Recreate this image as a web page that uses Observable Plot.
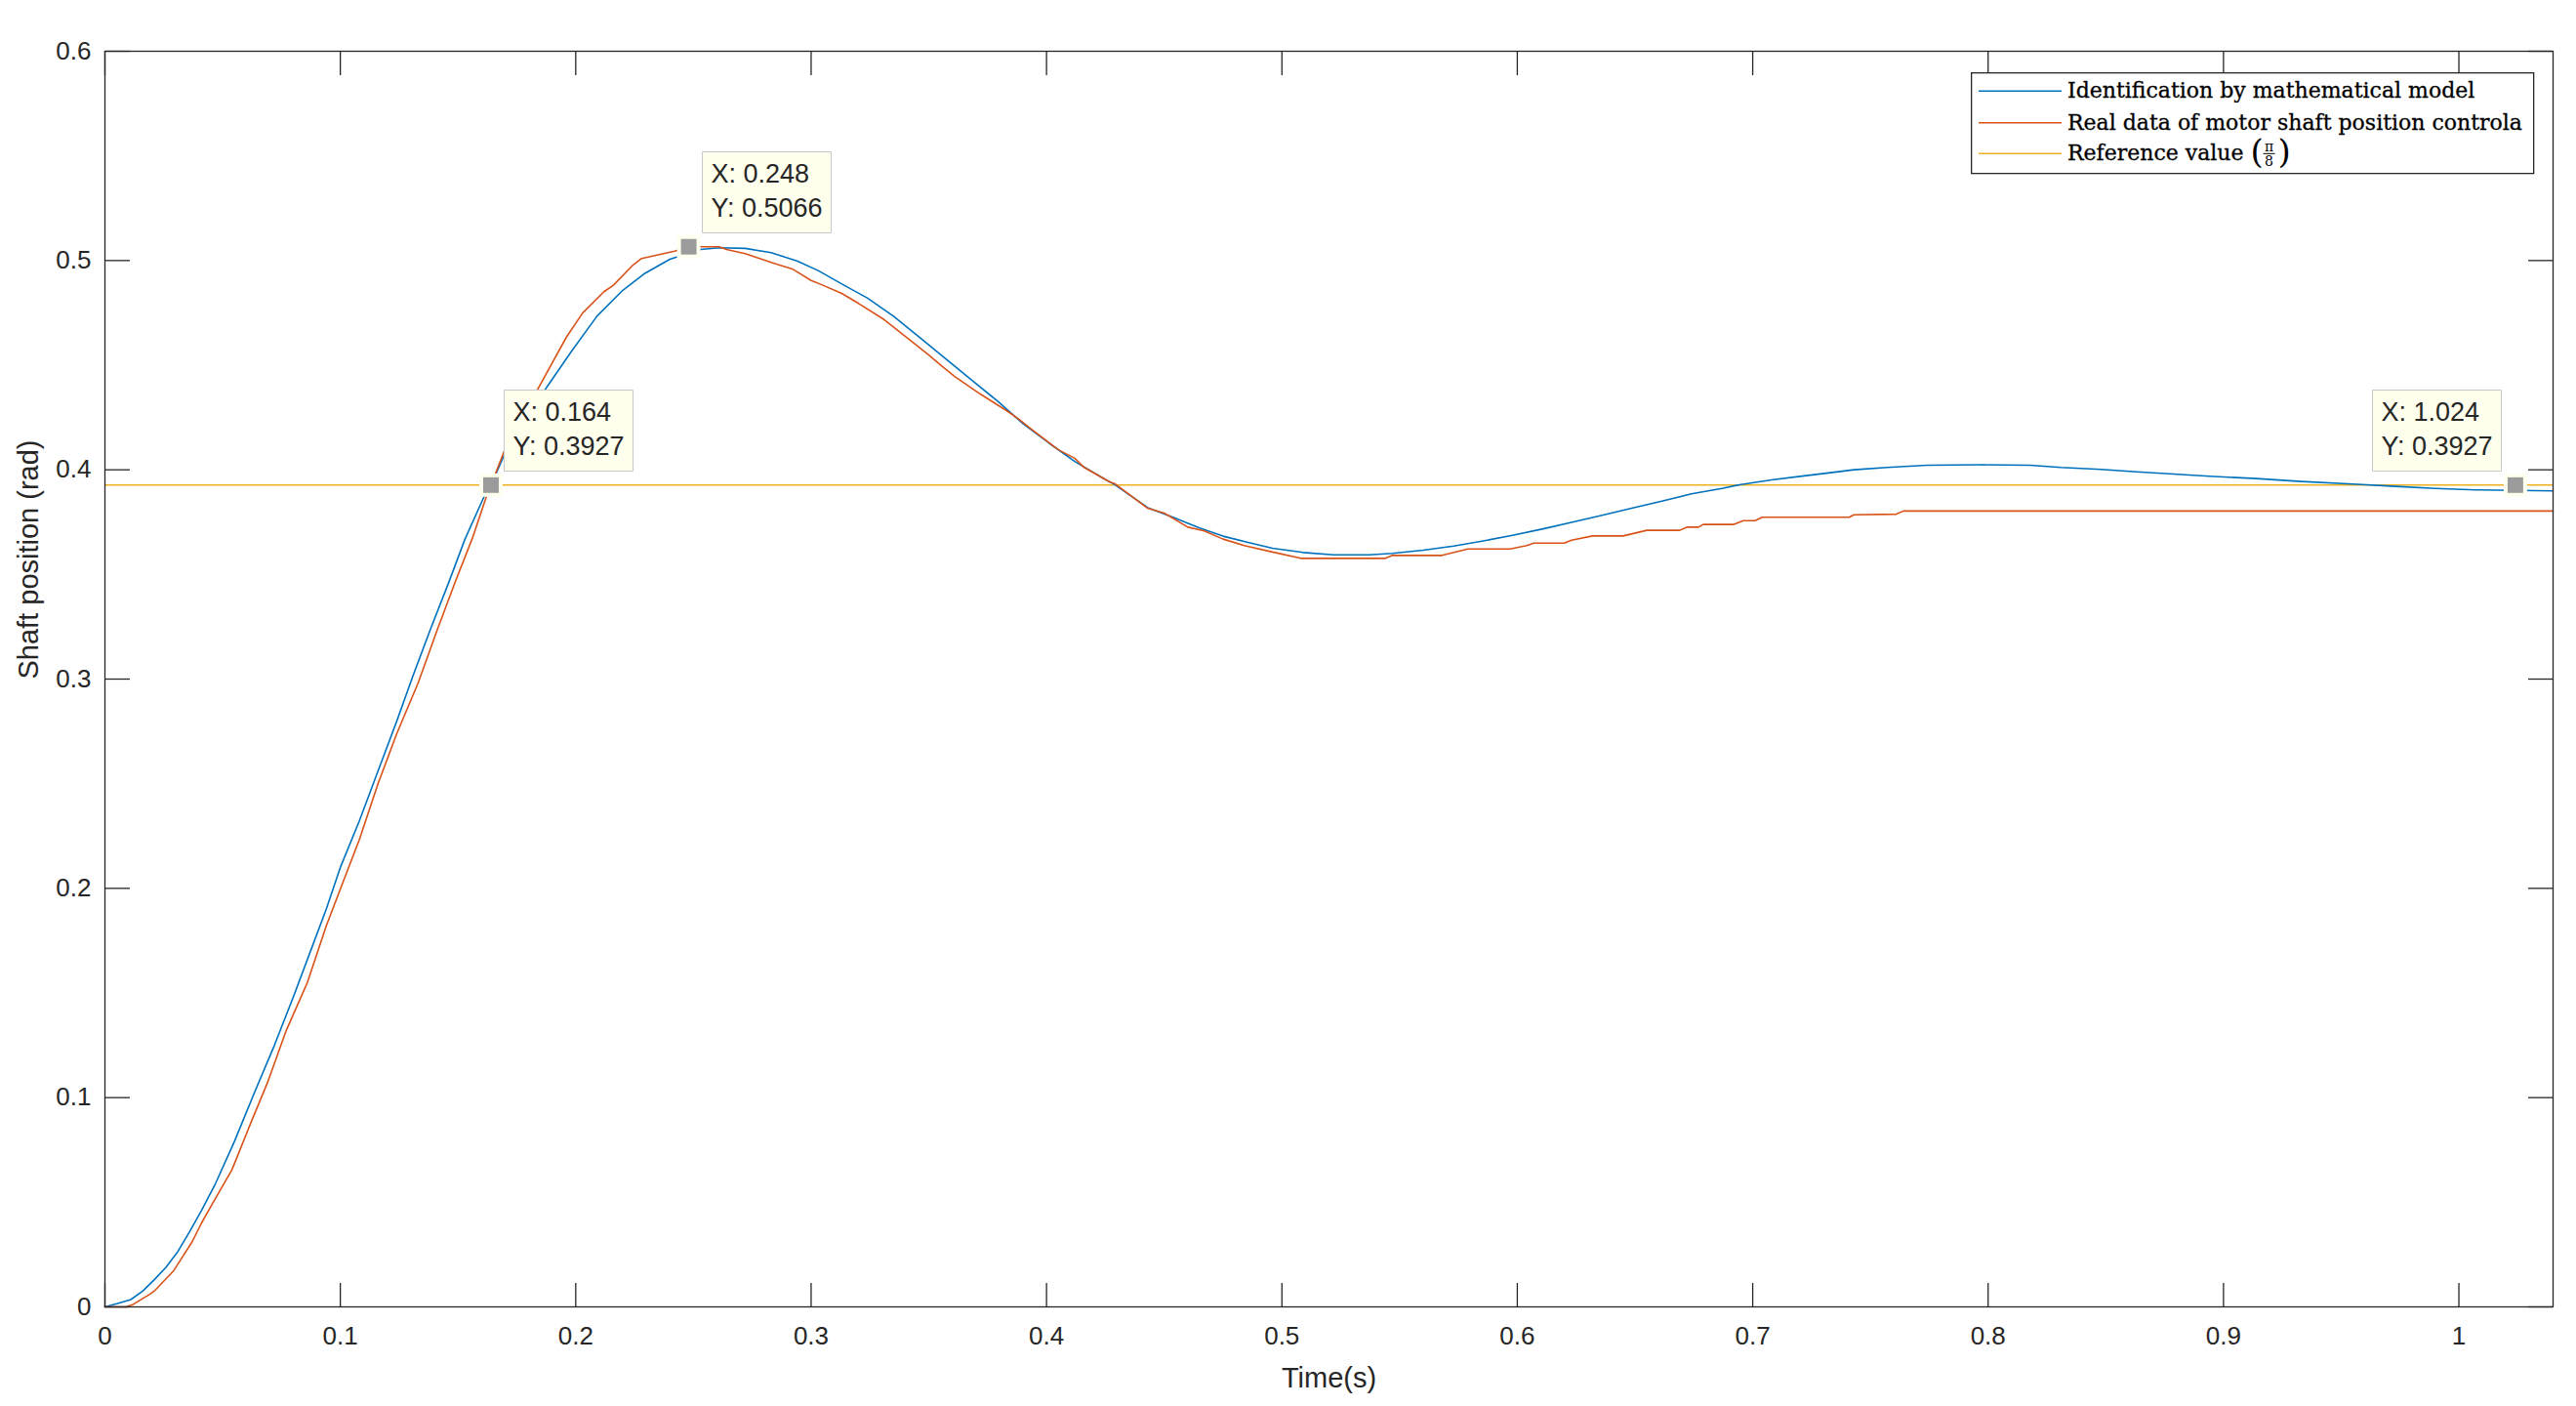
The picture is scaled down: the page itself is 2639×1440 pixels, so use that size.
<!DOCTYPE html>
<html>
<head>
<meta charset="utf-8">
<script src="https://cdn.jsdelivr.net/npm/d3@7"></script>
<script src="https://cdn.jsdelivr.net/npm/@observablehq/plot@0.6"></script>
<style>
  html, body { margin: 0; padding: 0; background: #fff; }
  #wrap { position: relative; width: 2639px; height: 1440px; }
  #legend { position: absolute; left: 2019px; top: 74px; }
</style>
</head>
<body>
<div id="wrap"><div id="chart"></div><svg id="legend" width="578" height="105"></svg></div>
<script>
// ---- Data ----
const modelT = [0, 0.005, 0.011, 0.016, 0.021, 0.026, 0.031, 0.036, 0.041, 0.047, 0.055, 0.063, 0.072, 0.080, 0.088, 0.094, 0.100, 0.108, 0.116, 0.124, 0.131, 0.138, 0.146, 0.153, 0.161, 0.164, 0.170, 0.188, 0.198, 0.209, 0.220, 0.229, 0.240, 0.253, 0.261, 0.272, 0.283, 0.294, 0.303, 0.314, 0.324, 0.335, 0.346, 0.357, 0.368, 0.379, 0.390, 0.401, 0.412, 0.424, 0.429, 0.443, 0.454, 0.465, 0.475, 0.486, 0.496, 0.509, 0.522, 0.537, 0.547, 0.560, 0.573, 0.585, 0.598, 0.611, 0.623, 0.636, 0.649, 0.661, 0.674, 0.687, 0.695, 0.708, 0.721, 0.733, 0.743, 0.757, 0.774, 0.796, 0.818, 0.831, 0.848, 0.863, 0.877, 0.894, 0.914, 0.933, 0.955, 0.973, 0.990, 1.007, 1.040];
const modelV = [0, 0.0015, 0.0035, 0.0075, 0.0130, 0.0190, 0.0265, 0.0360, 0.0460, 0.0590, 0.0790, 0.1010, 0.1250, 0.1480, 0.1720, 0.1900, 0.2100, 0.2320, 0.2560, 0.2800, 0.3020, 0.3230, 0.3460, 0.3670, 0.3870, 0.3927, 0.4080, 0.4400, 0.4563, 0.4734, 0.4858, 0.4936, 0.5006, 0.5053, 0.5061, 0.5058, 0.5038, 0.4998, 0.4952, 0.4882, 0.4820, 0.4734, 0.4633, 0.4532, 0.4431, 0.4330, 0.4221, 0.4128, 0.4040, 0.3960, 0.3929, 0.3819, 0.3772, 0.3722, 0.3683, 0.3652, 0.3625, 0.3605, 0.3594, 0.3594, 0.3601, 0.3616, 0.3636, 0.3659, 0.3687, 0.3718, 0.3749, 0.3783, 0.3818, 0.3849, 0.3885, 0.3911, 0.3930, 0.3952, 0.3970, 0.3986, 0.4000, 0.4011, 0.4022, 0.4024, 0.4022, 0.4011, 0.4002, 0.3990, 0.3981, 0.3969, 0.3958, 0.3944, 0.3932, 0.3921, 0.3911, 0.3904, 0.3899];

const realT = [0, 0.009, 0.012, 0.019, 0.021, 0.029, 0.033, 0.037, 0.041, 0.045, 0.054, 0.062, 0.069, 0.077, 0.086, 0.094, 0.102, 0.108, 0.116, 0.124, 0.133, 0.141, 0.149, 0.156, 0.162, 0.164, 0.170, 0.185, 0.196, 0.203, 0.212, 0.216, 0.224, 0.228, 0.242, 0.248, 0.261, 0.264, 0.272, 0.283, 0.292, 0.300, 0.305, 0.313, 0.320, 0.331, 0.344, 0.350, 0.355, 0.361, 0.372, 0.383, 0.388, 0.394, 0.405, 0.412, 0.416, 0.427, 0.429, 0.443, 0.450, 0.460, 0.467, 0.475, 0.484, 0.496, 0.508, 0.544, 0.547, 0.568, 0.579, 0.597, 0.604, 0.607, 0.620, 0.623, 0.632, 0.645, 0.655, 0.669, 0.672, 0.677, 0.679, 0.692, 0.696, 0.701, 0.704, 0.741, 0.743, 0.761, 0.764, 1.040];
const realV = [0, 0, 0.0012, 0.0060, 0.0076, 0.0170, 0.0240, 0.0310, 0.0400, 0.0480, 0.0656, 0.0880, 0.1070, 0.1320, 0.1550, 0.1820, 0.2055, 0.2230, 0.2500, 0.2740, 0.2980, 0.3230, 0.3470, 0.3670, 0.3870, 0.3927, 0.4100, 0.4408, 0.4633, 0.4750, 0.4851, 0.4882, 0.4975, 0.5010, 0.5045, 0.5066, 0.5066, 0.5053, 0.5033, 0.4991, 0.4960, 0.4905, 0.4882, 0.4843, 0.4796, 0.4718, 0.4602, 0.4548, 0.4501, 0.4446, 0.4361, 0.4283, 0.4244, 0.4190, 0.4096, 0.4055, 0.4011, 0.3941, 0.3934, 0.3816, 0.3793, 0.3726, 0.3708, 0.3669, 0.3638, 0.3607, 0.3577, 0.3577, 0.3591, 0.3591, 0.3622, 0.3622, 0.3638, 0.3650, 0.3650, 0.3664, 0.3684, 0.3684, 0.3711, 0.3711, 0.3726, 0.3726, 0.3739, 0.3739, 0.3757, 0.3757, 0.3773, 0.3773, 0.3785, 0.3788, 0.3803, 0.3803];

const referenceValue = 0.3927;

const tipX = [0.164, 0.248, 1.024];
const tipY = [0.3927, 0.5066, 0.3927];
const tipSide = ["right", "right", "left"];

const xTicks = [0, 0.1, 0.2, 0.3, 0.4, 0.5, 0.6, 0.7, 0.8, 0.9, 1];
const xTickLabels = ["0", "0.1", "0.2", "0.3", "0.4", "0.5", "0.6", "0.7", "0.8", "0.9", "1"];
const yTicks = [0, 0.1, 0.2, 0.3, 0.4, 0.5, 0.6];
const yTickLabels = ["0", "0.1", "0.2", "0.3", "0.4", "0.5", "0.6"];

const xTitle = "Time(s)";
const yTitle = "Shaft position (rad)";
const seriesNames = ["Identification by mathematical model", "Real data of motor shaft position controla", "Reference value"];
const seriesColors = ["#0072BD", "#D95319", "#EDB120"];

// ---- Build ----
const model = modelT.map((t, i) => ({t, v: modelV[i]}));
const real = realT.map((t, i) => ({t, v: realV[i]}));
const tips = tipX.map((x, i) => ({x, y: tipY[i], side: tipSide[i], label: `X: ${x}\nY: ${tipY[i]}`}));

const axisColor = "#262626";
const tipStyle = {
  x: "x", y: "y", title: "label", pointerSize: 0, dy: -14,
  fill: "#FFFFEE", stroke: "#C8C8C8", fontSize: 27, lineHeight: 1.3, textPadding: 9,
  pathFilter: "none", fontFamily: "Liberation Sans"
};

const chart = Plot.plot({
  width: 2639, height: 1440,
  marginLeft: 107, marginRight: 24, marginTop: 52, marginBottom: 102,
  x: {domain: [0, 1.04]},
  y: {domain: [0, 0.6]},
  style: {fontFamily: "Liberation Sans", background: "#fff", color: axisColor, fontSize: "26px"},
  marks: [
    Plot.ruleY([referenceValue], {stroke: seriesColors[2], strokeWidth: 1.6}),
    Plot.line(model, {x: "t", y: "v", stroke: seriesColors[0], strokeWidth: 1.6}),
    Plot.line(real, {x: "t", y: "v", stroke: seriesColors[1], strokeWidth: 1.6}),
    Plot.frame({stroke: axisColor, strokeWidth: 1.3}),
    // inward ticks on all four sides
    Plot.axisX(xTicks, {anchor: "top", frameAnchor: "bottom", tickSize: 25, fill: "none", label: null, stroke: axisColor, strokeWidth: 1.3}),
    Plot.axisX(xTicks, {anchor: "bottom", frameAnchor: "top", tickSize: 25, fill: "none", label: null, stroke: axisColor, strokeWidth: 1.3}),
    Plot.axisY(yTicks, {anchor: "right", frameAnchor: "left", tickSize: 25, fill: "none", label: null, stroke: axisColor, strokeWidth: 1.3}),
    Plot.axisY(yTicks, {anchor: "left", frameAnchor: "right", tickSize: 25, fill: "none", label: null, stroke: axisColor, strokeWidth: 1.3}),
    // tick labels
    Plot.axisX(xTicks, {anchor: "bottom", tickSize: 0, tickPadding: 20, fontSize: 26, label: null,
      tickFormat: d => xTickLabels[xTicks.indexOf(d)], fill: axisColor}),
    Plot.axisY(yTicks, {anchor: "left", tickSize: 0, tickPadding: 14, fontSize: 26, label: null,
      tickFormat: d => yTickLabels[yTicks.indexOf(d)], fill: axisColor}),
    // axis titles
    Plot.text([xTitle], {text: d => d, frameAnchor: "bottom", lineAnchor: "bottom", dy: 82, fontSize: 29, fill: axisColor}),
    Plot.text([yTitle], {text: d => d, frameAnchor: "left", lineAnchor: "bottom", rotate: -90, dx: -69, fontSize: 29, fill: axisColor}),
    // data tips
    Plot.dot(tips, {x: "x", y: "y", symbol: "square", r: 13.5, fill: "#FFFFF0", stroke: "none"}),
    Plot.dot(tips, {x: "x", y: "y", symbol: "square", r: 9, fill: "#9B9B9B", stroke: "none"}),
    Plot.tip(tips.filter(d => d.side === "right"), {...tipStyle, anchor: "bottom-left", dx: 14}),
    Plot.tip(tips.filter(d => d.side === "left"), {...tipStyle, anchor: "bottom-right", dx: -14})
  ]
});
document.getElementById("chart").appendChild(chart);

// ---- Legend (inside axes, top-right) ----
const lg = d3.select("#legend");
lg.append("rect").attr("x", 0.65).attr("y", 0.65).attr("width", 576).attr("height", 103)
  .attr("fill", "#fff").attr("stroke", axisColor).attr("stroke-width", 1.3);
const rowY = [19.3, 51.7, 83.3];
const labelNodes = seriesNames.map((name, i) => {
  lg.append("line").attr("x1", 8).attr("x2", 93).attr("y1", rowY[i]).attr("y2", rowY[i])
    .attr("stroke", seriesColors[i]).attr("stroke-width", 1.6);
  return lg.append("text").attr("x", 99).attr("y", rowY[i] + 7)
    .attr("font-family", "DejaVu Serif").attr("font-size", 22).attr("fill", "#000")
    .attr("stroke", "#000").attr("stroke-width", 0.3)
    .text(name).node();
});
// fraction (pi / 8) after "Reference value"
const endX = 99 + labelNodes[2].getComputedTextLength() + 7;
const g = lg.append("g").attr("font-family", "DejaVu Serif").attr("fill", "#000");
g.append("text").attr("x", endX).attr("y", rowY[2] + 10).attr("font-size", 34).attr("font-weight", 300).text("(");
g.append("text").attr("x", endX + 19).attr("y", rowY[2] - 2).attr("font-size", 14).attr("text-anchor", "middle").text("π");
g.append("line").attr("x1", endX + 13).attr("x2", endX + 25).attr("y1", rowY[2]).attr("y2", rowY[2]).attr("stroke", "#000").attr("stroke-width", 1);
g.append("text").attr("x", endX + 19).attr("y", rowY[2] + 13).attr("font-size", 14).attr("text-anchor", "middle").text("8");
g.append("text").attr("x", endX + 28).attr("y", rowY[2] + 10).attr("font-size", 34).attr("font-weight", 300).text(")");
</script>
</body>
</html>
